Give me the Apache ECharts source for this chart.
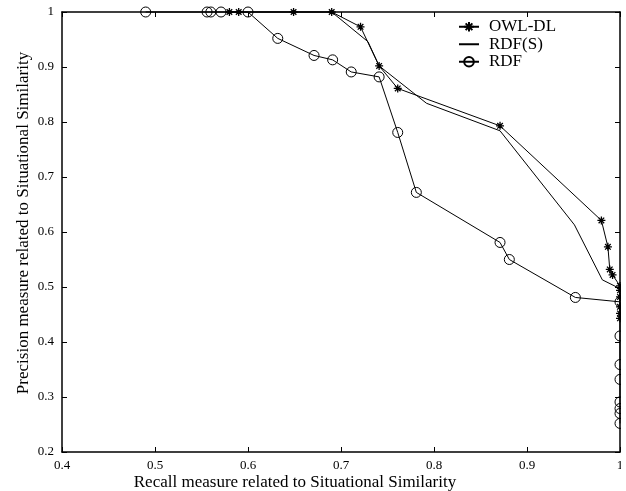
<!DOCTYPE html>
<html>
<head>
<meta charset="utf-8">
<script src="https://cdn.jsdelivr.net/npm/echarts@6/dist/echarts.min.js"></script>
<style>html,body{margin:0;padding:0;background:#fff;}#c{width:626px;height:491px;}</style>
</head>
<body>
<div id="c"></div>
<script>
const xTickLabels = ['0.4','0.5','0.6','0.7','0.8','0.9','1'];
const yTickLabels = ['0.2','0.3','0.4','0.5','0.6','0.7','0.8','0.9','1'];
const seriesNames = ['OWL-DL','RDF(S)','RDF'];
const owlDL = [
  [0.580,1.0],[0.590,1.0],[0.649,1.0],[0.690,1.0],[0.721,0.973],[0.741,0.902],[0.761,0.861],
  [0.871,0.793],[0.980,0.621],[0.987,0.573],[0.989,0.532],[0.992,0.522],
  [1.0,0.502],[1.0,0.494],[1.0,0.482],[1.0,0.464],[1.0,0.452],[1.0,0.443]
];
const rdfs = [
  [0.580,1.0],[0.690,1.0],[0.729,0.946],[0.741,0.902],[0.792,0.834],[0.871,0.784],
  [0.951,0.613],[0.981,0.513],[1.0,0.497],[1.0,0.45]
];
const rdf = [
  [0.490,1.0],[0.556,1.0],[0.560,1.0],[0.571,1.0],[0.600,1.0],[0.632,0.952],[0.671,0.921],
  [0.691,0.913],[0.711,0.891],[0.741,0.882],[0.761,0.781],[0.781,0.672],[0.871,0.581],
  [0.881,0.550],[0.952,0.481],[1.0,0.473],[1.0,0.411],[1.0,0.359],[1.0,0.332],
  [1.0,0.291],[1.0,0.279],[1.0,0.270],[1.0,0.252]
];

const FONT = 'Liberation Serif';
const chart = echarts.init(document.getElementById('c'), null, {renderer:'canvas'});
const axisLine = {show:true, onZero:false, lineStyle:{color:'#000', width:1.5}};
const tick = {show:true, inside:true, length:5, lineStyle:{color:'#000', width:1}};
const starPath = 'path://M5,0L5,10M0,5L10,5M1.5,1.5L8.5,8.5M1.5,8.5L8.5,1.5';

chart.setOption({
  animation:false,
  backgroundColor:'#fff',
  grid:{left:62, right:6, top:12, bottom:39, containLabel:false, outerBoundsMode:'none'},
  legend:{
    data:seriesNames, orient:'vertical', left:458, top:18, padding:0,
    itemWidth:20, itemHeight:12, itemGap:0,
    textStyle:{fontFamily:FONT, fontSize:17, lineHeight:17.5, color:'#000', padding:[0,0,0,5]}
  },
  xAxis:[{
    type:'value', min:0.4, max:1, interval:0.1,
    axisLine, axisTick:tick, splitLine:{show:false},
    axisLabel:{fontFamily:FONT, fontSize:13, color:'#000', margin:7, showMinLabel:true, showMaxLabel:true,
      formatter:(v)=>xTickLabels[Math.round((v-0.4)*10)]},
    name:'Recall measure related to Situational Similarity', nameLocation:'middle', nameGap:22,
    nameMoveOverlap:false,
    nameTextStyle:{fontFamily:FONT, fontSize:17, color:'#000', padding:[0,92,0,0]}
  },{
    type:'value', position:'top', min:0.4, max:1, interval:0.1,
    axisLine, axisTick:tick, axisLabel:{show:false}, splitLine:{show:false}
  }],
  yAxis:[{
    type:'value', min:0.2, max:1, interval:0.1,
    axisLine, axisTick:tick, splitLine:{show:false},
    axisLabel:{fontFamily:FONT, fontSize:13, color:'#000', margin:8, showMinLabel:true, showMaxLabel:true,
      formatter:(v)=>yTickLabels[Math.round((v-0.2)*10)]},
    name:'Precision measure related to Situational Similarity', nameLocation:'middle', nameGap:30,
    nameMoveOverlap:false,
    nameTextStyle:{fontFamily:FONT, fontSize:17, color:'#000', padding:[0,0,0,18]}
  },{
    type:'value', position:'right', min:0.2, max:1, interval:0.1,
    axisLine, axisTick:tick, axisLabel:{show:false}, splitLine:{show:false}
  }],
  series:[
    {name:seriesNames[0], type:'line', data:owlDL, symbol:starPath, symbolSize:8, clip:false,
     lineStyle:{color:'#000', width:1}, itemStyle:{color:'#000', borderColor:'#000', borderWidth:1.3}},
    {name:seriesNames[1], type:'line', data:rdfs, symbol:'circle', showSymbol:false, symbolSize:0, clip:false,
     lineStyle:{color:'#000', width:1}, itemStyle:{color:'rgba(0,0,0,0)', borderWidth:0}},
    {name:seriesNames[2], type:'line', data:rdf, symbol:'circle', symbolSize:10, clip:false,
     lineStyle:{color:'#000', width:1}, itemStyle:{color:'rgba(0,0,0,0)', borderColor:'#000', borderWidth:1}}
  ],
  graphic:[{type:'rect', right:0, top:0, shape:{width:5, height:491}, style:{fill:'#fff'}, z:100}]
});
</script>
</body>
</html>
